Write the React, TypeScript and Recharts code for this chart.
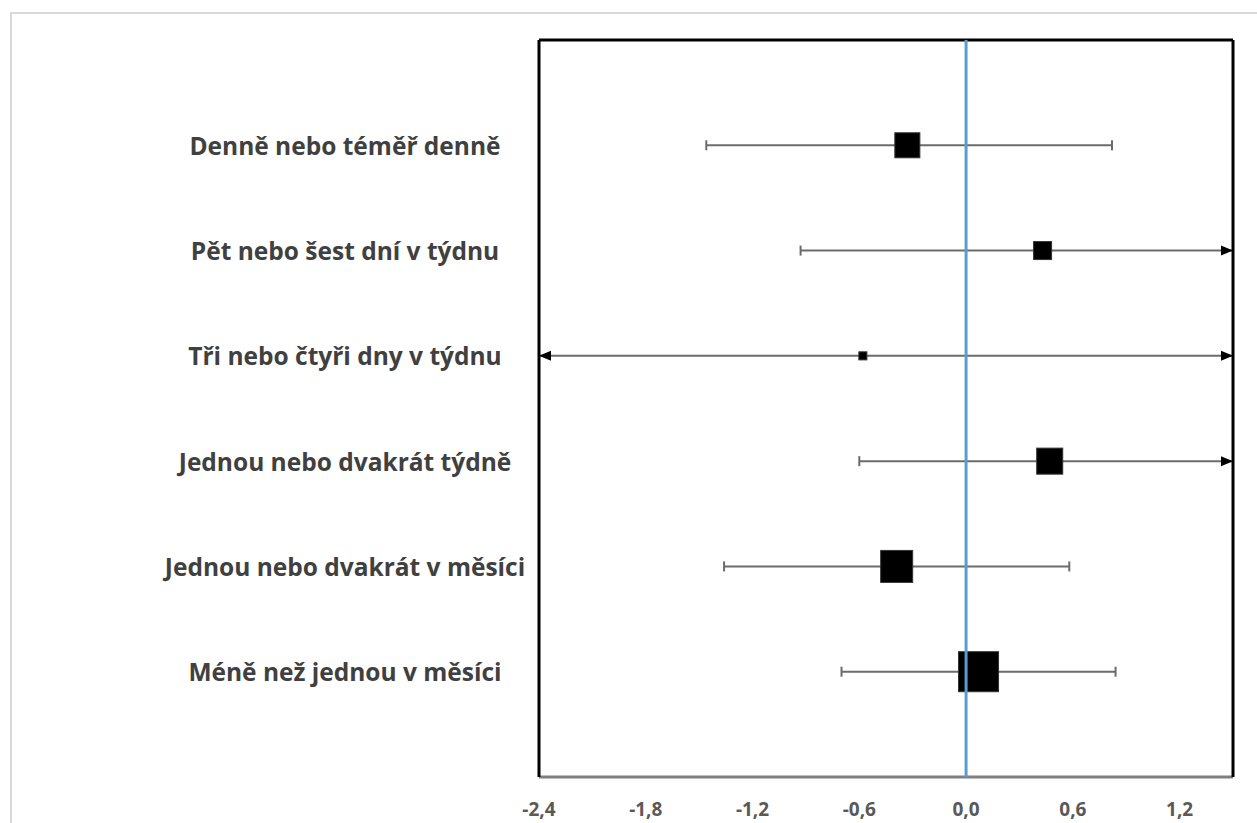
import { ScatterChart, Scatter, XAxis, YAxis, ReferenceLine } from "recharts"

const categories = [
  "Denně nebo téměř denně",
  "Pět nebo šest dní v týdnu",
  "Tři nebo čtyři dny v týdnu",
  "Jednou nebo dvakrát týdně",
  "Jednou nebo dvakrát v měsíci",
  "Méně než jednou v měsíci",
]
const estimates = [-0.33, 0.43, -0.58, 0.47, -0.39, 0.07]
// intervals running past the axis are stored at the axis limit and drawn with an arrow
const ciLow = [-1.46, -0.93, -2.4, -0.6, -1.36, -0.7]
const ciHigh = [0.82, 1.5, 1.5, 1.5, 0.58, 0.84]
const weights = [14.5, 7.5, 1.5, 15.7, 23.7, 37.1]
const xTicks = [-2.4, -1.8, -1.2, -0.6, 0, 0.6, 1.2]
const nullLine = [
  { est: 0, y: 0 },
  { est: 0, y: 7 },
]

const X_MIN = -2.4
const X_MAX = 1.5
const FONT = "'Open Sans', 'DejaVu Sans', sans-serif"

const rows = categories.map((name, i) => ({
  name,
  y: categories.length - i,
  est: estimates[i],
  lo: ciLow[i],
  hi: ciHigh[i],
  w: weights[i],
}))

const fmt = (v: number) => v.toFixed(1).replace(".", ",").replace("-0,0", "0,0")

function Whisker(props: any) {
  const { x1, y1, x2, arrowLeft, arrowRight } = props
  const c = "#6b6b6b"
  return (
    <g>
      <line x1={x1} y1={y1} x2={x2} y2={y1} stroke={c} strokeWidth={2} />
      {arrowLeft ? (
        <polygon points={`${x1},${y1} ${x1 + 12},${y1 - 5} ${x1 + 12},${y1 + 5}`} fill="#000" />
      ) : (
        <line x1={x1} y1={y1 - 5} x2={x1} y2={y1 + 5} stroke={c} strokeWidth={2} />
      )}
      {arrowRight ? (
        <polygon points={`${x2},${y1} ${x2 - 12},${y1 - 5} ${x2 - 12},${y1 + 5}`} fill="#000" />
      ) : (
        <line x1={x2} y1={y1 - 5} x2={x2} y2={y1 + 5} stroke={c} strokeWidth={2} />
      )}
    </g>
  )
}

function SquareMark(props: any) {
  const { cx, cy, payload } = props
  const s = Math.sqrt(payload.w) * 6.57
  return <rect x={cx - s / 2} y={cy - s / 2} width={s} height={s} fill="#000" stroke="#333" strokeWidth={1} />
}

function CatTick(props: any) {
  const { y, payload } = props
  const label = categories[categories.length - payload.value]
  return (
    <text x={345} y={y} textAnchor="middle" dominantBaseline="central" fill="#404040" fontFamily={FONT} fontWeight={700} fontSize={24.5}>
      {label}
    </text>
  )
}

export default function App() {
  return (
    <div style={{ position: "relative", width: 1257, height: 823, overflow: "hidden", background: "#fff" }}>
      <style>{"body{margin:0;overflow:hidden}"}</style>
      <div style={{ position: "absolute", left: 10, top: 12, width: 1300, height: 900, border: "2px solid #d9d9d9" }} />
      <div style={{ position: "absolute", left: 0, top: 0 }}>
        <ScatterChart width={1257} height={823} margin={{ top: 39, right: 23, bottom: 16, left: 0 }}>
          <XAxis
            xAxisId="b"
            type="number"
            dataKey="est"
            domain={[X_MIN, X_MAX]}
            ticks={xTicks}
            allowDataOverflow
            height={30}
            tickLine={false}
            tickSize={0}
            tickMargin={26}
            tickFormatter={fmt}
            axisLine={{ stroke: "#7f7f7f", strokeWidth: 3 }}
            tick={{ fill: "#595959", fontSize: 19, fontWeight: 700, fontFamily: FONT }}
          />
          <XAxis
            xAxisId="t"
            orientation="top"
            type="number"
            domain={[X_MIN, X_MAX]}
            allowDataOverflow
            height={1}
            tick={false}
            tickLine={false}
            axisLine={{ stroke: "#000", strokeWidth: 3 }}
          />
          <YAxis
            yAxisId="l"
            type="number"
            dataKey="y"
            domain={[0, 7]}
            ticks={[1, 2, 3, 4, 5, 6]}
            width={539}
            tickLine={false}
            axisLine={{ stroke: "#000", strokeWidth: 3 }}
            tick={<CatTick />}
          />
          <YAxis
            yAxisId="r"
            orientation="right"
            type="number"
            domain={[0, 7]}
            width={1}
            tick={false}
            tickLine={false}
            axisLine={{ stroke: "#000", strokeWidth: 3 }}
          />
          {rows.map((r) => (
            <ReferenceLine
              key={r.name}
              xAxisId="b"
              yAxisId="l"
              segment={[
                { x: r.lo, y: r.y },
                { x: r.hi, y: r.y },
              ]}
              shape={(p: any) => <Whisker {...p} arrowLeft={r.lo <= X_MIN} arrowRight={r.hi >= X_MAX} />}
            />
          ))}
          <Scatter
            xAxisId="b"
            yAxisId="l"
            data={rows}
            dataKey="est"
            shape={<SquareMark />}
            isAnimationActive={false}
          />
          <Scatter
            xAxisId="b"
            yAxisId="l"
            data={nullLine}
            dataKey="est"
            line={{ stroke: "#5b9bd5", strokeWidth: 3 }}
            shape={() => <g />}
            isAnimationActive={false}
          />
        </ScatterChart>
      </div>
    </div>
  )
}
